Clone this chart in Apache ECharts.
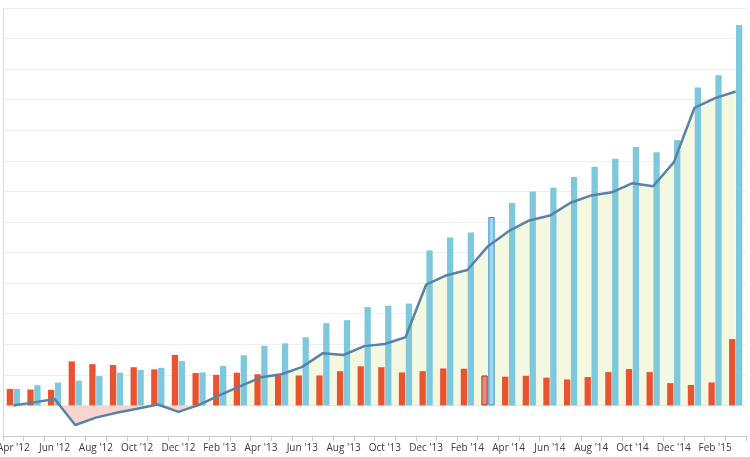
<!DOCTYPE html>
<html>
<head>
<meta charset="utf-8">
<script src="https://cdn.jsdelivr.net/npm/echarts@6/dist/echarts.min.js"></script>
<style>
html,body{margin:0;padding:0;background:#fff;}
#chart{width:750px;height:457px;}
</style>
</head>
<body>
<div id="chart"></div>
<script>
const categories = ["Apr '12","May '12","Jun '12","Jul '12","Aug '12","Sep '12","Oct '12","Nov '12","Dec '12",
  "Jan '13","Feb '13","Mar '13","Apr '13","May '13","Jun '13","Jul '13","Aug '13","Sep '13","Oct '13","Nov '13","Dec '13",
  "Jan '14","Feb '14","Mar '14","Apr '14","May '14","Jun '14","Jul '14","Aug '14","Sep '14","Oct '14","Nov '14","Dec '14",
  "Jan '15","Feb '15","Mar '15"];
const redValues = [0.54,0.52,0.51,1.44,1.35,1.32,1.25,1.18,1.65,
  1.06,1.00,1.07,1.02,0.98,0.98,0.98,1.12,1.28,1.25,1.08,1.12,
  1.21,1.20,0.98,0.94,0.97,0.91,0.85,0.93,1.09,1.19,1.09,0.73,
  0.67,0.75,2.17];
const blueValues = [0.54,0.66,0.75,0.81,0.96,1.07,1.16,1.23,1.45,
  1.08,1.29,1.64,1.95,2.03,2.23,2.69,2.79,3.22,3.26,3.33,5.07,
  5.49,5.66,6.16,6.62,7.00,7.12,7.47,7.81,8.07,8.45,8.28,8.68,
  10.40,10.80,12.44];
const lineValues = [0.00,0.10,0.21,-0.64,-0.40,-0.24,-0.11,0.03,-0.21,
  0.02,0.34,0.63,0.92,1.02,1.26,1.71,1.65,1.94,2.01,2.23,3.95,
  4.26,4.43,5.21,5.70,6.05,6.21,6.63,6.87,6.97,7.27,7.17,7.95,
  9.73,10.05,10.27];
const highlightIndex = 23;

const redHi = {color:'#EC8877', borderColor:'#B3301F', borderWidth:1};
const blueHi = {color:'#A3D7EA', borderColor:'#2F8ED6', borderWidth:1};

// area fill: yellow above zero, pink below zero (gradient spans the area's bounding box)
const maxV = Math.max(0, ...lineValues);
const minV = Math.min(0, ...lineValues);
const zeroOff = maxV / (maxV - minV);
const posColor = '#F5F8E1', negColor = '#F9D5D0';
const areaFill = new echarts.graphic.LinearGradient(0, 0, 0, 1, [
  {offset: 0, color: posColor},
  {offset: zeroOff, color: posColor},
  {offset: zeroOff, color: negColor},
  {offset: 1, color: negColor}
]);

const chart = echarts.init(document.getElementById('chart'), null, {renderer:'canvas'});
chart.setOption({
  animation: false,
  grid: {left: 3, right: 4, top: 8, bottom: 21, containLabel: false, outerBoundsMode: 'none'},
  xAxis: {
    type: 'category',
    data: categories,
    boundaryGap: true,
    axisLine: {onZero: false, lineStyle: {color: '#c8c8c8', width: 1}},
    axisTick: {show: true, interval: 0, length: 5, lineStyle: {color: '#c8c8c8'}},
    axisLabel: {interval: 1, color: '#3a3a3a', fontSize: 10, fontFamily: 'Open Sans', margin: 7},
    splitLine: {show: false}
  },
  yAxis: {
    type: 'value',
    min: -1, max: 13, interval: 1,
    axisLine: {show: true, lineStyle: {color: '#dcdcdc'}},
    axisTick: {show: false},
    axisLabel: {show: false},
    splitLine: {show: true, lineStyle: {color: '#eeeeee', width: 1}}
  },
  series: [
    {
      type: 'bar',
      z: 2,
      barCategoryGap: '36%',
      barGap: '10%',
      itemStyle: {color: '#E9532F'},
      data: redValues.map((v, i) => i === highlightIndex ? {value: v, itemStyle: redHi} : v)
    },
    {
      type: 'bar',
      z: 2,
      barCategoryGap: '36%',
      barGap: '10%',
      itemStyle: {color: '#7DC8DC'},
      data: blueValues.map((v, i) => i === highlightIndex ? {value: v, itemStyle: blueHi} : v)
    },
    {
      type: 'line',
      z: 1,
      showSymbol: false,
      silent: true,
      lineStyle: {width: 0, opacity: 0},
      areaStyle: {color: areaFill, opacity: 1},
      data: lineValues
    },
    {
      type: 'line',
      z: 3,
      showSymbol: false,
      lineStyle: {color: '#5784A6', width: 2.5},
      data: lineValues
    }
  ]
});
</script>
</body>
</html>
